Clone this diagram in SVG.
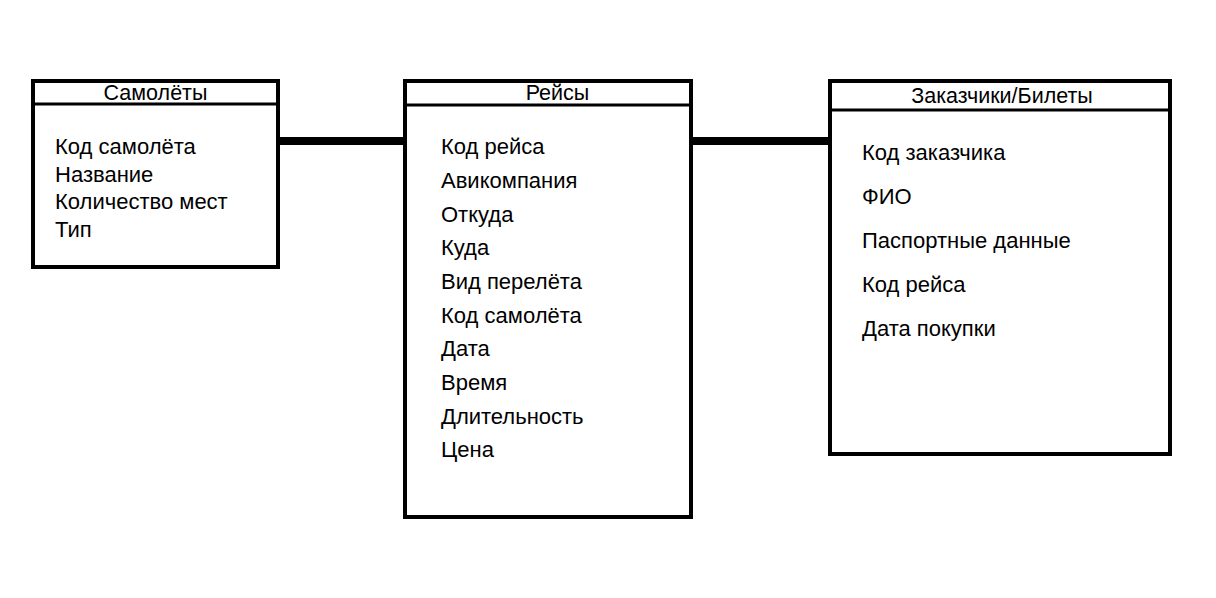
<svg xmlns="http://www.w3.org/2000/svg" width="1216" height="598" viewBox="0 0 1216 598">
<style>
.box{fill:#fff;stroke:#000;stroke-width:4}
.div{stroke:#000;stroke-width:3}
.conn{stroke:#000;stroke-width:8}
text{font-family:"Liberation Sans",Arial,sans-serif;fill:#000}
.t{font-size:21.5px}
.f{font-size:22px}
</style>
<rect width="1216" height="598" fill="#fff"/>
<g id="connectors">
<line class="conn" x1="278" y1="141" x2="405" y2="141"/>
<line class="conn" x1="691" y1="141" x2="830" y2="141"/>
</g>
<g id="samolety">
<rect class="box" x="33" y="81" width="245" height="186"/>
<line class="div" x1="33" y1="104" x2="278" y2="104"/>
<text class="t" x="155.5" y="100" text-anchor="middle">Самолёты</text>
<text class="f" x="55" y="154">Код самолёта</text>
<text class="f" x="55" y="182">Название</text>
<text class="f" x="55" y="209">Количество мест</text>
<text class="f" x="55" y="237">Тип</text>
</g>
<g id="reisy">
<rect class="box" x="405" y="81" width="286" height="436"/>
<line class="div" x1="405" y1="105" x2="691" y2="105"/>
<text class="t" x="557.5" y="100" text-anchor="middle">Рейсы</text>
<text class="f" x="441" y="154">Код рейса</text>
<text class="f" x="441" y="188">Авикомпания</text>
<text class="f" x="441" y="222">Откуда</text>
<text class="f" x="441" y="255">Куда</text>
<text class="f" x="441" y="289">Вид перелёта</text>
<text class="f" x="441" y="323">Код самолёта</text>
<text class="f" x="441" y="356">Дата</text>
<text class="f" x="441" y="390">Время</text>
<text class="f" x="441" y="424">Длительность</text>
<text class="f" x="441" y="457">Цена</text>
</g>
<g id="zakazchiki">
<rect class="box" x="830" y="81" width="340" height="373"/>
<line class="div" x1="830" y1="110" x2="1170" y2="110"/>
<text class="t" x="1002" y="103" text-anchor="middle">Заказчики/Билеты</text>
<text class="f" x="862" y="160">Код заказчика</text>
<text class="f" x="862" y="204">ФИО</text>
<text class="f" x="862" y="248">Паспортные данные</text>
<text class="f" x="862" y="292">Код рейса</text>
<text class="f" x="862" y="336">Дата покупки</text>
</g>
</svg>
